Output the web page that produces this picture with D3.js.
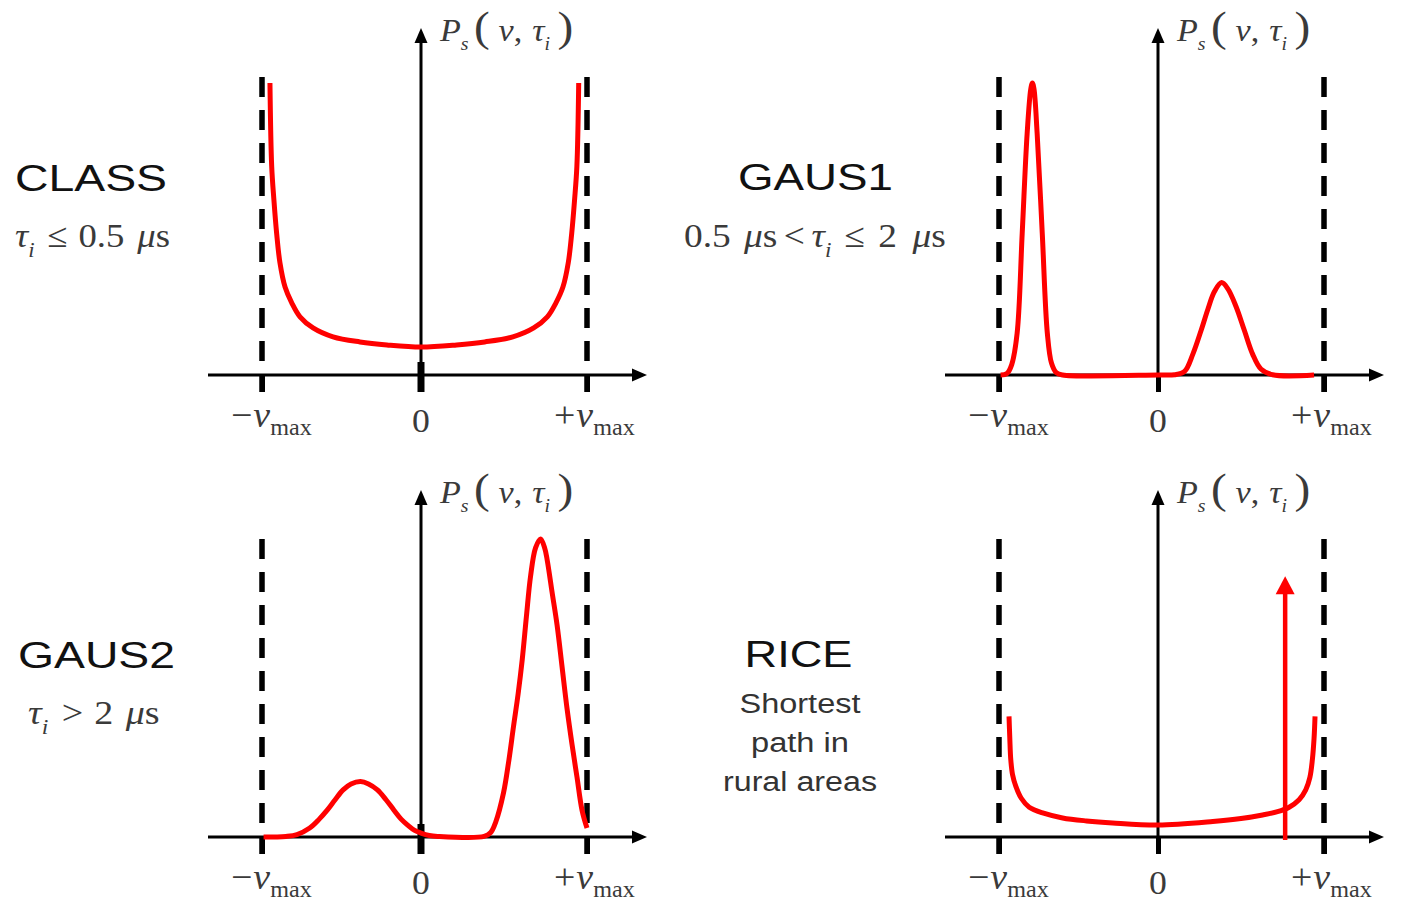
<!DOCTYPE html>
<html>
<head>
<meta charset="utf-8">
<script src="https://cdn.jsdelivr.net/npm/d3@7"></script>
<style>
  html, body { margin: 0; padding: 0; background: #fff; }
  svg { display: block; }
</style>
</head>
<body>
<svg id="chart" width="1416" height="902"></svg>
<script>
// Doppler power spectra for the four delay classes.
// Doppler shift is normalised to nu / nu_max (-1 .. 1),
// power density is relative (1 = top of the dashed nu_max guides).
const classNu = [-0.95, -0.939, -0.925, -0.908, -0.887, -0.855, -0.813, -0.761, -0.679, -0.553, -0.384, -0.214, 0,
                 0.214, 0.384, 0.553, 0.679, 0.761, 0.813, 0.855, 0.887, 0.908, 0.925, 0.939, 0.95];
const classP  = [0.98, 0.70, 0.587, 0.476, 0.376, 0.295, 0.242, 0.195, 0.158, 0.128, 0.111, 0.101, 0.094,
                 0.101, 0.111, 0.128, 0.158, 0.195, 0.242, 0.295, 0.376, 0.476, 0.587, 0.70, 0.98];

const gaus1Nu = [-0.99, -0.95, -0.92, -0.886, -0.854, -0.823, -0.80, -0.79, -0.78, -0.76, -0.728, -0.696, -0.67, -0.64, -0.60,
                 0, 0.10, 0.16, 0.21, 0.26, 0.30, 0.34, 0.383, 0.42, 0.47, 0.52, 0.57, 0.62, 0.69, 0.94];
const gaus1P  = [0, 0.005, 0.035, 0.14, 0.476, 0.81, 0.96, 0.98, 0.96, 0.81, 0.476, 0.14, 0.04, 0.008, 0,
                 0, 0.001, 0.012, 0.07, 0.15, 0.22, 0.28, 0.31, 0.29, 0.23, 0.15, 0.07, 0.02, 0.001, 0];

const gaus2Nu = [-0.99, -0.85, -0.78, -0.70, -0.64, -0.59, -0.54, -0.49, -0.44, -0.38, -0.33, -0.274, -0.22, -0.17, -0.125, -0.084, -0.04, 0, 0.05, 0.10,
                 0.38, 0.42, 0.45, 0.497, 0.53, 0.557, 0.585, 0.61, 0.635, 0.66, 0.69, 0.72, 0.745, 0.76, 0.79, 0.82, 0.85, 0.88, 0.91, 0.94, 0.97, 1.0];
const gaus2P  = [0, 0.002, 0.008, 0.03, 0.06, 0.09, 0.125, 0.158, 0.178, 0.186, 0.178, 0.158, 0.125, 0.09, 0.06, 0.04, 0.022, 0.013, 0.005, 0.002,
                 0.002, 0.015, 0.05, 0.148, 0.26, 0.37, 0.48, 0.596, 0.74, 0.875, 0.97, 1.0, 0.97, 0.93, 0.82, 0.71, 0.57, 0.43, 0.31, 0.2, 0.09, 0.03];

const riceNu = [-0.937, -0.932, -0.926, -0.915, -0.894, -0.86, -0.81, -0.72, -0.60, -0.45, -0.285, 0,
                0.33, 0.50, 0.63, 0.72, 0.79, 0.85, 0.89, 0.915, 0.93, 0.94, 0.946];
const riceP  = [0.405, 0.33, 0.26, 0.21, 0.17, 0.13, 0.10, 0.08, 0.064, 0.054, 0.047, 0.04,
                0.052, 0.062, 0.074, 0.085, 0.10, 0.125, 0.158, 0.20, 0.26, 0.33, 0.405];

// Line-of-sight (direct path) component of the Rice spectrum
const riceLosNu = [0.766];
const riceLosP  = [0.875];

const panelTitles = ["CLASS", "GAUS1", "GAUS2", "RICE"];
const tickValues = [-1, 0, 1];
const tickSigns = ["\u2212", "0", "+"];
const riceNote = ["Shortest", "path in", "rural areas"];

const serif = "'Liberation Serif','Times New Roman',serif";
const sans = "'Liberation Sans',Arial,sans-serif";
const RED = "#ff0000";
const INK = "#000";
const MATH = "#3a3a3a";

const svg = d3.select("#chart");

// Text made of pieces: [string, {it, sub, dx, size}]
function mathText(parent, x, y, pieces, o) {
  const t = parent.append("text")
    .attr("transform", `translate(${x},${y}) scale(${o.sx || 1},1)`)
    .attr("font-family", o.family || serif)
    .attr("font-size", o.size)
    .attr("fill", o.fill || MATH)
    .attr("text-anchor", o.anchor || "start");
  let inSub = false;
  const shift = o.size * (o.subShift || 0.28);
  pieces.forEach(([txt, f = {}]) => {
    const s = t.append("tspan").text(txt);
    if (f.it) s.attr("font-style", "italic");
    let dy = 0;
    if (f.sub && !inSub) dy = shift;
    if (!f.sub && inSub) dy = -shift;
    inSub = !!f.sub;
    if (dy) s.attr("dy", dy);
    if (f.sub) s.attr("font-size", f.size || o.size * 0.62);
    else if (f.size) s.attr("font-size", f.size);
    if (f.dx) s.attr("dx", f.dx);
  });
  return t;
}

function sansText(parent, x, y, txt, size, len, fill) {
  return parent.append("text")
    .attr("x", x).attr("y", y)
    .attr("text-anchor", "middle")
    .attr("font-family", sans)
    .attr("font-size", size)
    .attr("fill", fill)
    .attr("textLength", len)
    .attr("lengthAdjust", "spacingAndGlyphs")
    .text(txt);
}

const panels = [
  { nu: classNu, p: classP, x0: 421,  base: 375, zeroTick: true },
  { nu: gaus1Nu, p: gaus1P, x0: 1158, base: 375 },
  { nu: gaus2Nu, p: gaus2P, x0: 421,  base: 837, zeroTick: true },
  { nu: riceNu,  p: riceP,  x0: 1158, base: 837, los: true }
];

panels.forEach(pn => {
  const g = svg.append("g");
  const x = d3.scaleLinear().domain([-1, 0, 1]).range([pn.x0 - 159, pn.x0, pn.x0 + 166]);
  const y = d3.scaleLinear().domain([0, 1]).range([pn.base, pn.base - 298]);
  const below = 17;

  // dashed nu_max guides
  g.selectAll("line.guide").data([-1, 1]).join("line")
    .attr("class", "guide")
    .attr("x1", d => x(d)).attr("x2", d => x(d))
    .attr("y1", y(1)).attr("y2", pn.base + below)
    .attr("stroke", INK).attr("stroke-width", 5.5)
    .attr("stroke-dasharray", "20,13");

  // tick marks below the frequency axis
  const ax = g.append("g")
    .attr("transform", `translate(0,${pn.base})`)
    .call(d3.axisBottom(x).tickValues(tickValues).tickSize(below).tickSizeOuter(0).tickFormat(""));
  ax.select(".domain").remove();
  ax.selectAll(".tick line").attr("stroke", INK).attr("stroke-width", 5);

  // frequency axis with arrow
  const xa0 = pn.x0 - 213, xa1 = pn.x0 + 226;
  g.append("line")
    .attr("x1", xa0).attr("x2", xa1 - 10)
    .attr("y1", pn.base).attr("y2", pn.base)
    .attr("stroke", INK).attr("stroke-width", 3.2);
  g.append("path")
    .attr("d", `M${xa1},${pn.base} L${xa1 - 15},${pn.base - 6.5} L${xa1 - 15},${pn.base + 6.5} Z`)
    .attr("fill", INK);

  // power axis with arrow
  const ya1 = pn.base - 347;
  g.append("line")
    .attr("x1", pn.x0).attr("x2", pn.x0)
    .attr("y1", pn.base + below).attr("y2", ya1 + 10)
    .attr("stroke", INK).attr("stroke-width", 3);
  g.append("path")
    .attr("d", `M${pn.x0},${ya1} L${pn.x0 - 6.5},${ya1 + 15} L${pn.x0 + 6.5},${ya1 + 15} Z`)
    .attr("fill", INK);

  if (pn.zeroTick) {
    g.append("line")
      .attr("x1", pn.x0).attr("x2", pn.x0)
      .attr("y1", pn.base - 13).attr("y2", pn.base + below)
      .attr("stroke", INK).attr("stroke-width", 7);
  }

  // spectrum
  const line = d3.line()
    .x(d => x(d[0])).y(d => y(d[1]))
    .curve(d3.curveCatmullRom.alpha(0.5));
  g.append("path")
    .datum(d3.zip(pn.nu, pn.p))
    .attr("d", line)
    .attr("fill", "none")
    .attr("stroke", RED)
    .attr("stroke-width", 5)
    .attr("stroke-linejoin", "round");

  // line-of-sight delta component
  if (pn.los) {
    riceLosNu.forEach((v, i) => {
      const lx = x(v), ly = y(riceLosP[i]);
      g.append("line")
        .attr("x1", lx).attr("x2", lx)
        .attr("y1", pn.base + 3).attr("y2", ly + 14)
        .attr("stroke", RED).attr("stroke-width", 4.5);
      g.append("path")
        .attr("d", `M${lx},${ly} L${lx - 9.5},${ly + 18} L${lx + 9.5},${ly + 18} Z`)
        .attr("fill", RED);
    });
  }

  // tick labels
  tickValues.forEach((v, i) => {
    if (v === 0) {
      mathText(g, x(v), pn.base + 57, [["0"]], { size: 34, anchor: "middle", sx: 1.05 });
    } else {
      const tx = v < 0 ? x(v) - 31 : x(v) - 33;
      mathText(g, tx, pn.base + 52,
        [[tickSigns[i]], ["\u03bd", { it: true, dx: 1 }], ["max", { sub: true, size: 23, dx: 0 }]],
        { size: 36, sx: 1.05, subShift: 0.22 });
    }
  });

  // power axis label P_s(nu, tau_i)
  mathText(g, pn.x0 + 19, pn.base - 334,
    [["P", { it: true }], ["s", { it: true, sub: true, size: 18 }],
     ["(", { size: 43, dx: 5 }], ["\u03bd", { it: true, dx: 8 }], [","],
     ["\u03c4", { it: true, dx: 9 }], ["i", { it: true, sub: true, size: 18 }],
     [")", { size: 43, dx: 7 }]],
    { size: 31, sx: 1.1, subShift: 0.3 });
});

// Panel titles and delay conditions
sansText(svg, 91, 191, panelTitles[0], 37, 152, "#111");
mathText(svg, 15, 247,
  [["\u03c4", { it: true }], ["i", { it: true, sub: true }], ["\u2264", { dx: 12 }],
   ["0.5", { dx: 10 }], ["\u03bc", { it: true, dx: 12 }], ["s"]],
  { size: 34, sx: 1.08 });

sansText(svg, 815.5, 190, panelTitles[1], 37, 155, "#111");
mathText(svg, 684, 247,
  [["0.5"], ["\u03bc", { it: true, dx: 12 }], ["s"], ["<", { dx: 6 }],
   ["\u03c4", { it: true, dx: 6 }], ["i", { it: true, sub: true }], ["\u2264", { dx: 12 }],
   ["2", { dx: 12 }], ["\u03bc", { it: true, dx: 14 }], ["s"]],
  { size: 34, sx: 1.1 });

sansText(svg, 96.5, 668, panelTitles[2], 37, 157, "#111");
mathText(svg, 28, 724,
  [["\u03c4", { it: true }], ["i", { it: true, sub: true }], [">", { dx: 12 }],
   ["2", { dx: 10 }], ["\u03bc", { it: true, dx: 11 }], ["s"]],
  { size: 34, sx: 1.12 });

sansText(svg, 798.5, 667, panelTitles[3], 37, 108, "#111");
const noteLens = [121, 98, 154];
riceNote.forEach((t, i) => sansText(svg, 800, 713 + i * 39, t, 27, noteLens[i], "#333"));
</script>
</body>
</html>
